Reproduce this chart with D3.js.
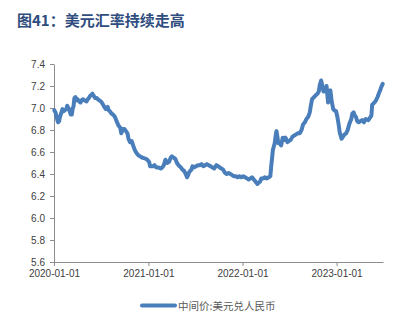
<!DOCTYPE html>
<html><head><meta charset="utf-8">
<script src="https://cdn.jsdelivr.net/npm/d3@7"></script>
<style>
html,body{margin:0;padding:0;background:#fff;}
svg{display:block;}
</style></head>
<body>
<svg id="c" width="402" height="325"></svg>
<script>
const titleText = "图41：美元汇率持续走高";
const seriesName = "中间价:美元兑人民币";
const yTicks = [5.6,5.8,6.0,6.2,6.4,6.6,6.8,7.0,7.2,7.4];
const xTickLabels = ["2020-01-01","2021-01-01","2022-01-01","2023-01-01"];
const dates = [
"2020-01-02","2020-01-07","2020-01-10","2020-01-14","2020-01-17","2020-01-21","2020-01-23","2020-02-03","2020-02-07","2020-02-12","2020-02-18","2020-02-21","2020-02-26","2020-03-02","2020-03-06","2020-03-10","2020-03-13","2020-03-17","2020-03-20","2020-03-24","2020-03-27","2020-04-01","2020-04-07","2020-04-13","2020-04-17","2020-04-22","2020-04-28","2020-05-06","2020-05-11","2020-05-15","2020-05-20","2020-05-26","2020-05-29","2020-06-03","2020-06-09","2020-06-15","2020-06-19","2020-06-24","2020-07-01","2020-07-07","2020-07-14","2020-07-20","2020-07-27","2020-07-31","2020-08-05","2020-08-11","2020-08-17","2020-08-24","2020-08-31","2020-09-07","2020-09-14","2020-09-18","2020-09-24","2020-09-30","2020-10-12","2020-10-16","2020-10-22","2020-10-28","2020-11-03","2020-11-09","2020-11-16","2020-11-23","2020-11-30","2020-12-07","2020-12-14","2020-12-21","2020-12-28",
"2021-01-04","2021-01-08","2021-01-13","2021-01-19","2021-01-25","2021-02-01","2021-02-08","2021-02-18","2021-02-24","2021-03-02","2021-03-08","2021-03-15","2021-03-22","2021-03-29","2021-04-02","2021-04-08","2021-04-15","2021-04-22","2021-04-28","2021-05-07","2021-05-13","2021-05-19","2021-05-26","2021-05-31","2021-06-04","2021-06-09","2021-06-17","2021-06-21","2021-06-28","2021-07-05","2021-07-12","2021-07-19","2021-07-26","2021-08-02","2021-08-09","2021-08-16","2021-08-23","2021-08-30","2021-09-06","2021-09-13","2021-09-22","2021-09-29","2021-10-11","2021-10-18","2021-10-25","2021-11-01","2021-11-08","2021-11-15","2021-11-22","2021-11-29","2021-12-06","2021-12-13","2021-12-20","2021-12-27",
"2022-01-04","2022-01-11","2022-01-18","2022-01-25","2022-02-07","2022-02-14","2022-02-21","2022-02-28","2022-03-04","2022-03-10","2022-03-15","2022-03-22","2022-03-29","2022-04-06","2022-04-13","2022-04-19","2022-04-22","2022-04-26","2022-04-29","2022-05-06","2022-05-11","2022-05-13","2022-05-17","2022-05-20","2022-05-26","2022-05-31","2022-06-06","2022-06-13","2022-06-17","2022-06-24","2022-06-30","2022-07-07","2022-07-14","2022-07-21","2022-07-28","2022-08-04","2022-08-11","2022-08-18","2022-08-24","2022-08-31","2022-09-06","2022-09-13","2022-09-19","2022-09-23","2022-09-28","2022-10-10","2022-10-14","2022-10-19","2022-10-24","2022-10-28","2022-11-02","2022-11-07","2022-11-11","2022-11-14","2022-11-18","2022-11-23","2022-11-29","2022-12-03","2022-12-08","2022-12-13","2022-12-19","2022-12-23","2022-12-30",
"2023-01-04","2023-01-09","2023-01-13","2023-01-18","2023-01-20","2023-01-26","2023-02-01","2023-02-07","2023-02-13","2023-02-20","2023-02-27","2023-03-03","2023-03-08","2023-03-13","2023-03-17","2023-03-22","2023-03-28","2023-04-03","2023-04-10","2023-04-17","2023-04-24","2023-05-04","2023-05-10","2023-05-16","2023-05-19","2023-05-24","2023-05-31","2023-06-05","2023-06-09","2023-06-15","2023-06-19","2023-06-23","2023-06-29"
];
const rates = [
6.98,6.96,6.93,6.89,6.87,6.88,6.91,6.99,6.97,6.98,6.99,7.02,7.00,6.97,6.94,6.94,6.99,7.02,7.09,7.10,7.07,7.08,7.06,7.05,7.07,7.08,7.07,7.06,7.08,7.09,7.11,7.12,7.13,7.11,7.09,7.09,7.08,7.07,7.06,7.04,7.01,6.99,7.01,6.98,6.97,6.95,6.94,6.92,6.88,6.84,6.82,6.77,6.81,6.81,6.77,6.72,6.69,6.70,6.66,6.62,6.59,6.57,6.56,6.55,6.545,6.54,6.53,
6.51,6.47,6.47,6.47,6.48,6.46,6.46,6.45,6.46,6.48,6.53,6.50,6.51,6.55,6.56,6.55,6.54,6.50,6.48,6.46,6.44,6.43,6.40,6.37,6.39,6.42,6.44,6.47,6.46,6.47,6.48,6.48,6.49,6.47,6.48,6.49,6.48,6.47,6.46,6.45,6.48,6.47,6.45,6.44,6.41,6.40,6.41,6.40,6.39,6.38,6.38,6.37,6.38,6.37,
6.38,6.37,6.36,6.35,6.37,6.35,6.33,6.31,6.32,6.33,6.36,6.36,6.37,6.36,6.37,6.38,6.46,6.55,6.62,6.68,6.77,6.79,6.73,6.68,6.68,6.66,6.73,6.71,6.73,6.69,6.70,6.71,6.74,6.75,6.76,6.77,6.77,6.80,6.85,6.87,6.90,6.92,6.96,7.02,7.08,7.11,7.12,7.13,7.15,7.21,7.25,7.20,7.15,7.15,7.16,7.20,7.05,7.10,7.16,7.06,6.99,6.98,6.97,
6.92,6.85,6.78,6.74,6.72,6.74,6.76,6.77,6.80,6.86,6.90,6.95,6.96,6.93,6.92,6.88,6.87,6.88,6.89,6.87,6.90,6.89,6.91,6.93,7.03,7.04,7.06,7.08,7.10,7.14,7.16,7.19,7.22
];

const parse = d3.timeParse("%Y-%m-%d");
const data = dates.map((d,i)=>({date: parse(d), value: rates[i]}));

const svg = d3.select("#c");
const axisColor = "#8c8c8c";
const textColor = "#404040";

const x = d3.scaleTime().domain([parse("2020-01-01"), parse("2023-06-30")]).range([54, 383]);
const y = d3.scaleLinear().domain([5.6, 7.4]).range([262, 64]);

// title
svg.append("text").attr("x", 17).attr("y", 26)
  .attr("font-family", "'Noto Sans CJK SC', sans-serif")
  .attr("font-weight", "bold").attr("font-size", 15)
  .attr("fill", "#2f4d7e").text(titleText);

// y axis
const yAxis = svg.append("g").attr("transform", "translate(54,0)")
  .call(d3.axisLeft(y).tickValues(yTicks).tickSize(4).tickSizeOuter(0).tickPadding(5).tickFormat(d3.format(".1f")));
// x axis
const xAxis = svg.append("g").attr("transform", "translate(0,262)")
  .call(d3.axisBottom(x).tickValues(xTickLabels.map(parse)).tickSize(4).tickSizeOuter(0).tickPadding(4).tickFormat(d3.timeFormat("%Y-%m-%d")));

[yAxis, xAxis].forEach(g => {
  g.selectAll("path, line").attr("stroke", axisColor);
  g.selectAll("text").attr("fill", textColor)
    .attr("font-family", "'Liberation Sans', Arial, sans-serif").attr("font-size", 10);
});

// line
const line = d3.line().x(d => x(d.date)).y(d => y(d.value)).curve(d3.curveLinear);
svg.append("path").datum(data).attr("d", line)
  .attr("fill", "none").attr("stroke", "#4a7ebb").attr("stroke-width", 4)
  .attr("stroke-linejoin", "round").attr("stroke-linecap", "round");

// legend
svg.append("line").attr("x1", 142).attr("x2", 175).attr("y1", 305.5).attr("y2", 305.5)
  .attr("stroke", "#4a7ebb").attr("stroke-width", 4).attr("stroke-linecap", "round");
svg.append("text").attr("x", 178).attr("y", 309.5)
  .attr("font-family", "'Noto Sans CJK SC', sans-serif").attr("font-size", 10.5)
  .attr("fill", "#595959").text(seriesName);
</script>
</body></html>
